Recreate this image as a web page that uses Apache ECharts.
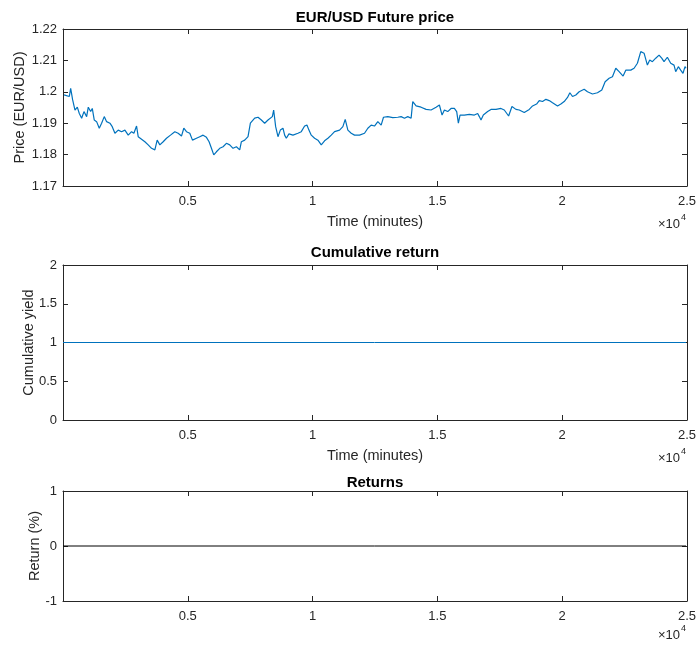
<!DOCTYPE html>
<html>
<head>
<meta charset="utf-8">
<script src="https://cdn.jsdelivr.net/npm/echarts@6/dist/echarts.min.js"></script>
<style>
  html, body { margin: 0; padding: 0; background: #fff; }
  #chart { width: 700px; height: 646px; }
</style>
</head>
<body>
<div id="chart"></div>
<script>
// EUR/USD future price, minute index vs price
const priceTime = [40, 253, 307, 387, 480, 573, 653, 747, 840, 947, 1013, 1107, 1173, 1253, 1347, 1453, 1547, 1653, 1747, 1880, 1973, 2080, 2213, 2347, 2480, 2613, 2747, 2840, 2947, 3013, 3147, 3280, 3413, 3547, 3680, 3773, 3880, 4013, 4147, 4307, 4480, 4613, 4747, 4840, 4947, 5080, 5187, 5347, 5480, 5613, 5747, 5853, 5947, 6040, 6147, 6280, 6413, 6547, 6680, 6813, 6947, 7080, 7147, 7280, 7413, 7507, 7680, 7813, 7947, 8080, 8213,
  8280, 8387, 8440, 8520, 8613, 8707, 8813, 8880, 8947, 9053, 9213, 9413, 9547, 9680, 9773, 9853, 9947, 10080, 10213, 10347, 10480, 10613, 10747, 10880, 11080, 11213, 11307, 11413, 11547, 11680, 11880, 12080, 12213, 12347, 12480, 12613, 12747, 12840, 13013, 13213, 13413, 13547, 13680, 13813, 13947, 14013, 14147, 14347, 14547, 14747, 14947, 15080, 15187, 15280, 15413, 15547, 15680, 15773, 15840, 15907, 16080, 16280, 16480, 16613,
  16680, 16747, 16840, 17013, 17147, 17347, 17547, 17680, 17853, 17987, 18147, 18280, 18480, 18680, 18813, 18973, 19080, 19213, 19347, 19480, 19613, 19813, 19947, 20080, 20213, 20307, 20413, 20547, 20680, 20880, 21013, 21213, 21413, 21587, 21720, 21880, 22013, 22147, 22280, 22440, 22547, 22747, 22880, 23013, 23147, 23280, 23413, 23507, 23613, 23747, 23880, 23987, 24080, 24213, 24347, 24480, 24547, 24653, 24747, 24840, 24920, 24960];
const priceValue = [1.1990, 1.1985, 1.2011, 1.1974, 1.1942, 1.1951, 1.1931, 1.1916, 1.1937, 1.1921, 1.1951, 1.1937, 1.1947, 1.1910, 1.1905, 1.1884, 1.1900, 1.1921, 1.1905, 1.1900, 1.1889, 1.1868, 1.1878, 1.1873, 1.1878, 1.1862, 1.1873, 1.1868, 1.1891, 1.1857, 1.1849, 1.1841, 1.1831, 1.1820, 1.1815, 1.1846, 1.1831, 1.1841, 1.1852, 1.1862, 1.1873, 1.1868, 1.1859, 1.1884, 1.1873, 1.1868, 1.1846, 1.1852, 1.1857, 1.1862, 1.1855, 1.1841, 1.1820, 1.1799, 1.1809, 1.1820, 1.1825, 1.1836, 1.1831, 1.1820, 1.1825, 1.1815, 1.1841, 1.1846, 1.1857, 1.1900, 1.1916, 1.1919, 1.1910, 1.1900, 1.1910,
  1.1910, 1.1921, 1.1942, 1.1889, 1.1857, 1.1878, 1.1884, 1.1862, 1.1852, 1.1866, 1.1862, 1.1868, 1.1873, 1.1891, 1.1894, 1.1878, 1.1862, 1.1852, 1.1846, 1.1831, 1.1844, 1.1852, 1.1862, 1.1873, 1.1878, 1.1889, 1.1912, 1.1878, 1.1868, 1.1862, 1.1862, 1.1868, 1.1884, 1.1894, 1.1891, 1.1905, 1.1894, 1.1919, 1.1921, 1.1918, 1.1919, 1.1921, 1.1916, 1.1921, 1.1916, 1.1969, 1.1955, 1.1951, 1.1944, 1.1942, 1.1951, 1.1958, 1.1926, 1.1942, 1.1937, 1.1947, 1.1947, 1.1937, 1.1900, 1.1926, 1.1926, 1.1928, 1.1926, 1.1931,
  1.1921, 1.1910, 1.1926, 1.1937, 1.1944, 1.1944, 1.1947, 1.1942, 1.1923, 1.1953, 1.1944, 1.1942, 1.1934, 1.1944, 1.1955, 1.1961, 1.1972, 1.1969, 1.1976, 1.1972, 1.1965, 1.1955, 1.1961, 1.1969, 1.1982, 1.1997, 1.1985, 1.1990, 1.2000, 1.2008, 1.2000, 1.1993, 1.1997, 1.2006, 1.2032, 1.2043, 1.2048, 1.2075, 1.2064, 1.2050, 1.2069, 1.2069, 1.2075, 1.2091, 1.2128, 1.2123, 1.2085, 1.2101, 1.2096, 1.2107, 1.2117, 1.2107, 1.2096, 1.2110, 1.2091, 1.2085, 1.2064, 1.2080, 1.2069, 1.2059, 1.2080, 1.2075];

// Cumulative yield and returns over the same time span
const spanTime = [1, 24960];
const cumulativeYield = [1, 1];
const returnsPct = [0, 0];

// Axis ticks
const timeTicks = [0, 5000, 10000, 15000, 20000, 25000];
const priceTicks = [1.17, 1.18, 1.19, 1.2, 1.21, 1.22];
const yieldTicks = [0, 0.5, 1, 1.5, 2];
const returnTicks = [-1, 0, 1];

const FONT = '"Liberation Sans", Arial, Helvetica, sans-serif';
const INK = '#262626';
const BLUE = '#0072BD';

const grids = [
  { left: 63, right: 13, top: 29, height: 157 },
  { left: 63, right: 13, top: 265, height: 155 },
  { left: 63, right: 13, top: 491, height: 110 }
];

const yTicks = [priceTicks, yieldTicks, returnTicks];
const yNames = ['Price (EUR/USD)', 'Cumulative yield', 'Return (%)'];
const yNameGaps = [36, 27, 21];
const xNames = ['Time (minutes)', 'Time (minutes)', ''];

const axisLine = { show: true, onZero: false, lineStyle: { color: INK, width: 1 } };
const axisTick = { show: true, inside: true, length: 5, lineStyle: { color: INK } };

const xAxes = [];
const yAxes = [];
grids.forEach((g, i) => {
  const tStep = timeTicks[1] - timeTicks[0];
  const xBase = {
    type: 'value', gridIndex: i,
    min: timeTicks[0], max: timeTicks[timeTicks.length - 1], interval: tStep,
    splitLine: { show: false },
    axisLine: axisLine,
    axisTick: axisTick
  };
  xAxes.push(Object.assign({}, xBase, {
    position: 'bottom',
    name: xNames[i], nameLocation: 'middle', nameGap: 28, nameMoveOverlap: false,
    nameTextStyle: { fontFamily: FONT, fontSize: 14.5, color: INK },
    axisLabel: {
      show: true, margin: 9, fontFamily: FONT, fontSize: 13, color: INK,
      formatter: v => (v === 0 ? '' : String(+(v / 10000).toFixed(2)))
    }
  }));
  xAxes.push(Object.assign({}, xBase, { position: 'top', axisLabel: { show: false } }));

  const ticks = yTicks[i];
  const yStep = +(ticks[1] - ticks[0]).toFixed(4);
  const yBase = {
    type: 'value', gridIndex: i,
    min: ticks[0], max: ticks[ticks.length - 1], interval: yStep,
    splitLine: { show: false },
    axisLine: axisLine,
    axisTick: axisTick
  };
  yAxes.push(Object.assign({}, yBase, {
    position: 'left',
    name: yNames[i], nameLocation: 'middle', nameGap: yNameGaps[i], nameRotate: 90,
    nameMoveOverlap: false,
    nameTextStyle: { fontFamily: FONT, fontSize: 14.5, color: INK },
    axisLabel: {
      show: true, margin: 6, fontFamily: FONT, fontSize: 13, color: INK,
      formatter: v => String(+v.toFixed(2))
    }
  }));
  yAxes.push(Object.assign({}, yBase, { position: 'right', axisLabel: { show: false } }));
});

const titleTexts = ['EUR/USD Future price', 'Cumulative return', 'Returns'];
const titleTops = [10, 245, 475];
const titles = titleTexts.map((t, i) => ({
  text: t, left: 375, top: titleTops[i], textAlign: 'center', padding: 0,
  textStyle: { fontFamily: FONT, fontSize: 15, fontWeight: 'bold', color: '#000' }
}));

// ×10^4 exponent markers under each time axis
const expY = [224, 458, 635];
const graphics = [];
expY.forEach(y => {
  graphics.push({
    type: 'text', x: 680, y: y,
    style: { text: '×10', fontFamily: FONT, fontSize: 13, fill: INK, align: 'right', verticalAlign: 'middle' }
  });
  graphics.push({
    type: 'text', x: 681, y: y - 6,
    style: { text: '4', fontFamily: FONT, fontSize: 9, fill: INK, align: 'left', verticalAlign: 'middle' }
  });
});

const zip = (a, b) => a.map((x, k) => [x, b[k]]);

const option = {
  animation: false,
  backgroundColor: '#fff',
  title: titles,
  grid: grids,
  xAxis: xAxes,
  yAxis: yAxes,
  graphic: graphics,
  series: [
    {
      type: 'line', xAxisIndex: 0, yAxisIndex: 0,
      data: zip(priceTime, priceValue),
      showSymbol: false, symbol: 'none',
      lineStyle: { color: BLUE, width: 1.2 }
    },
    {
      type: 'line', xAxisIndex: 2, yAxisIndex: 2,
      data: zip(spanTime, cumulativeYield),
      showSymbol: false, symbol: 'none',
      lineStyle: { color: BLUE, width: 1 }
    },
    {
      type: 'line', xAxisIndex: 4, yAxisIndex: 4,
      data: zip(spanTime, returnsPct),
      showSymbol: false, symbol: 'none',
      lineStyle: { color: '#000', width: 1 }
    }
  ]
};

const chart = echarts.init(document.getElementById('chart'), null, { renderer: 'canvas' });
chart.setOption(option);
</script>
</body>
</html>
